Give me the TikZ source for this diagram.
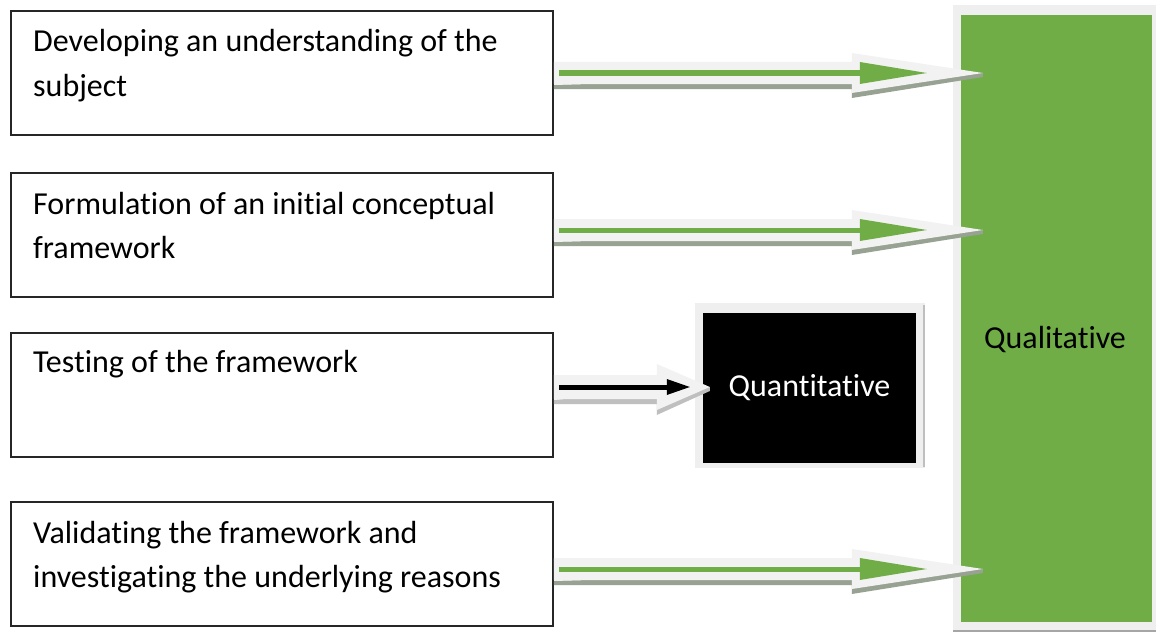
\documentclass[tikz,border=0pt]{standalone}
\usepackage{fontspec}
\setmainfont{Carlito}[Ligatures=NoCommon]
\usetikzlibrary{calc}
\definecolor{qgreen}{HTML}{70AD47}
\definecolor{framegray}{HTML}{EFEFEF}
\definecolor{arrowfill}{HTML}{F2F2F2}
\definecolor{shadowgray}{HTML}{98A293}
\tikzset{
  stagebox/.style={draw=black!85, line width=1.6pt, fill=white, minimum width=542pt, minimum height=124pt, inner sep=0pt},
  stagetext/.style={anchor=base west, inner sep=0pt, font=\fontsize{32}{44}\selectfont},
  boxtext/.style={inner sep=0pt, font=\fontsize{32}{38}\selectfont},
}
% #1 start, #2 tip, #3 body half height, #4 head half height, #5 head length, #6 fill, #7 shadow
\newcommand\blockarr[7]{%
  \fill[#7] ($(#1)+(0,{#3+1})$) -- ($(#1)+(0,{#3+5})$) -- ($(#2)+({-#5},{#3+5})$) -- ($(#2)+({-#5},{#4+5})$) -- ($(#2)+(0,4)$) -- ($(#2)+(0,0)$) -- cycle;
  \fill[#6] ($(#1)+(0,{-#3})$) -- ($(#2)+({-#5},{-#3})$) -- ($(#2)+({-#5},{-#4})$) -- (#2) -- ($(#2)+({-#5},{#4})$) -- ($(#2)+({-#5},{#3})$) -- ($(#1)+(0,{#3})$) -- cycle;
}
% #1 start, #2 end of inner tip, #3 head length, #4 head half, #5 colour
\newcommand\innerarr[5]{%
  \draw[#5, line width=5pt] ($(#1)+(5,0)$) -- ($(#2)+({-#3+2},0)$);
  \fill[#5] ($(#2)+({-#3},{-#4})$) -- (#2) -- ($(#2)+({-#3},{#4})$) -- cycle;
}
\begin{document}
\begin{tikzpicture}[x=1pt, y=-1pt]
\useasboundingbox (0,0) rectangle (1156,634);
\fill[white] (0,0) rectangle (1156,634);

% qualitative column
\fill[framegray] (953,5) rectangle (1156,630);
\draw[black!35, line width=1.5pt] (953,631) -- (1156,631);
\node[fill=qgreen, minimum width=191pt, minimum height=607pt, inner sep=0pt] (qual) at (1056.5,318.5) {};
\node[boxtext, anchor=base] (qualtext) at (1055,348) {Qualitative};

% quantitative box
\fill[framegray] (695,303) rectangle (925,468);
\draw[black!25, line width=1.2pt] (924,305) -- (924,467);
\node[fill=black, minimum width=213pt, minimum height=150pt, inner sep=0pt, text=white, font=\fontsize{32}{38}\selectfont] (quant) at (809.5,388) {Quantitative};

% stage boxes
\node[stagebox] (b1) at (282,73) {};
\node[stagebox] (b2) at (282,235) {};
\node[stagebox] (b3) at (282,395) {};
\node[stagebox] (b4) at (282,564) {};

\node[stagetext] (t1a) at (33,52) {Developing an understanding of the};
\node[stagetext] (t1b) at (33,96) {subject};
\node[stagetext] (t2a) at (33,214) {Formulation of an initial conceptual};
\node[stagetext] (t2b) at (33,258) {framework};
\node[stagetext] (t3) at (33,372) {Testing of the framework};
\node[stagetext] (t4a) at (33,543) {Validating the framework and};
\node[stagetext] (t4b) at (33,587) {investigating the underlying reasons};

% arrow levels
\coordinate (y1) at (0,73);
\coordinate (y2) at (0,230);
\coordinate (y3) at (0,387);
\coordinate (y4) at (0,569);

\coordinate (s1) at (b1.east |- y1);
\coordinate (s2) at (b2.east |- y2);
\coordinate (s3) at (b3.east |- y3);
\coordinate (s4) at (b4.east |- y4);
\coordinate (e1) at ($(qual.west |- y1)+(22,0)$);
\coordinate (e2) at ($(qual.west |- y2)+(22,0)$);
\coordinate (e3) at ($(quant.west |- y3)+(7,0)$);
\coordinate (e4) at ($(qual.west |- y4)+(22,0)$);
\coordinate (i1) at ($(e1)+(-56,0)$);
\coordinate (i2) at ($(e2)+(-56,0)$);
\coordinate (i3) at ($(e3)+(-20,0)$);
\coordinate (i4) at ($(e4)+(-56,0)$);

\blockarr{s1}{e1}{11}{20}{131}{arrowfill}{shadowgray}
\blockarr{s2}{e2}{11}{20}{131}{arrowfill}{shadowgray}
\blockarr{s4}{e4}{11}{20}{131}{arrowfill}{shadowgray}
\blockarr{s3}{e3}{12}{23}{53}{arrowfill}{black!25}

\innerarr{s1}{i1}{67}{11}{qgreen}
\innerarr{s2}{i2}{67}{11}{qgreen}
\innerarr{s4}{i4}{67}{11}{qgreen}
\innerarr{s3}{i3}{23}{8}{black}
\end{tikzpicture}
\end{document}
